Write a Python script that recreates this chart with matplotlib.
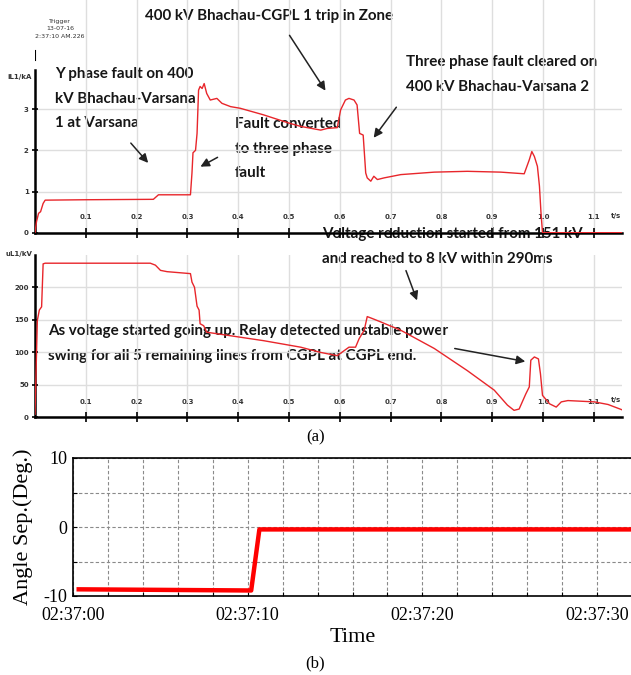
import numpy as np
import matplotlib.pyplot as plt
from matplotlib.ticker import FixedLocator, FuncFormatter, MultipleLocator

W, H = 631, 675

# iL1 current trace (kA)
cur_t = [0, 0.003, 0.007, 0.011, 0.016, 0.02, 0.1, 0.233, 0.243, 0.25, 0.306,
         0.309, 0.311, 0.316, 0.319, 0.322, 0.325, 0.329, 0.333, 0.338, 0.345,
         0.358, 0.368, 0.385, 0.404, 0.45, 0.5, 0.523, 0.5625, 0.575, 0.595,
         0.6016, 0.611, 0.618, 0.628, 0.634, 0.639, 0.646, 0.651, 0.654, 0.661,
         0.667, 0.674, 0.687, 0.72, 0.786, 0.851, 0.917, 0.963, 0.973, 0.978,
         0.983, 0.989, 0.993, 0.996, 0.999, 1.155]
cur_ka = [0, 0.27, 0.47, 0.51, 0.71, 0.79, 0.8, 0.81, 0.92, 0.92, 0.92,
          1.45, 1.94, 2.0, 2.41, 3.46, 3.55, 3.5, 3.62, 3.38, 3.22,
          3.26, 3.14, 3.06, 3.02, 2.86, 2.66, 2.58, 2.49, 2.53, 2.55,
          2.98, 3.22, 3.26, 3.22, 3.10, 2.41, 2.37, 1.45, 1.33, 1.25,
          1.37, 1.29, 1.33, 1.41, 1.47, 1.49, 1.47, 1.43, 1.77, 1.97,
          1.85, 1.61, 1.13, 0.49, 0, 0]

# uL1 voltage trace (kV)
vol_t = [0, 0.0046, 0.0085, 0.013, 0.016, 0.02, 0.227, 0.237, 0.247, 0.26,
         0.306, 0.309, 0.314, 0.319, 0.323, 0.325, 0.332, 0.338, 0.45, 0.523,
         0.562, 0.595, 0.618, 0.631, 0.638, 0.648, 0.654, 0.664, 0.68, 0.72,
         0.786, 0.851, 0.904, 0.93, 0.943, 0.953, 0.966, 0.973, 0.976, 0.983,
         0.991, 0.995, 0.999, 1.013, 1.026, 1.036, 1.049, 1.101, 1.128, 1.155]
vol_kv = [5, 149, 165, 170, 236, 237, 237, 234, 226, 224,
          221, 208, 200, 171, 165, 144, 141, 131, 118, 108,
          100, 95, 108, 108, 121, 134, 155, 152, 147, 134,
          106, 72, 42, 19, 11, 13, 36, 47, 88, 93,
          90, 67, 34, 21, 16, 24, 26, 24, 20, 12]

# angle separation (b), seconds after 02:37:00
ang_t = [0.2, 10.2, 10.67, 32.0]
ang_deg = [-9.03, -9.2, -0.35, -0.35]

rec_xticks = [0.1, 0.2, 0.3, 0.4, 0.5, 0.6, 0.7, 0.8, 0.9, 1.0, 1.1]
rec_xlabels = ['0.1', '0.2', '0.3', '0.4', '0.5', '0.6', '0.7', '0.8', '0.9', '1.0', '1.1']
cur_yticks = [0, 1, 2, 3]
vol_yticks = [0, 50, 100, 150, 200]
time_ticks = [0, 10, 20, 30]
angle_ticks = [-10, 0, 10]

notes = [
    ('400 kV Bhachau-CGPL 1 trip in Zone', 145, 15),
    ('Y phase fault on 400\nkV Bhachau-Varsana\n1 at Varsana', 55, 73),
    ('Fault converted\nto three phase\nfault', 235, 123),
    ('Three phase fault cleared on\n400 kV Bhachau-Varsana 2', 406, 61),
    ('Voltage reduction started from 151 kV\nand reached to 8 kV within 290ms', 322, 233),
    ('As voltage started going up. Relay detected unstable power\n'
     'swing for all 5 remaining lines from CGPL at CGPL end.', 48, 330),
]
arrows = [((288, 33), (327, 93)), ((129, 141), (150, 165)), ((220, 156), (198, 168)),
          ((398, 105), (372, 140)), ((405, 268), (418, 303)), ((452, 348), (528, 362))]


def fx(x):
    return x / W


def fy(y):
    return 1 - y / H


plt.rcParams['axes.unicode_minus'] = False
fig = plt.figure(figsize=(W / 100, H / 100), dpi=100)

red = '#e8262b'
tick_font = dict(fontsize=5, fontweight='bold', color='#333333')


def recorder(top, bottom, ymax, spine_top, t, v, yticks):
    ax = fig.add_axes([fx(35), fy(bottom), fx(622) - fx(35), (bottom - top) / H])
    ax.set_facecolor('none')
    ax.plot(t, v, color=red, lw=1.0, zorder=3)
    ax.set_xlim(0, 1.1555)
    ax.set_ylim(0, ymax)
    for s in ['top', 'right']:
        ax.spines[s].set_visible(False)
    ax.spines['left'].set_bounds(0, spine_top)
    ax.spines['bottom'].set_linewidth(1.8)
    ax.spines['left'].set_linewidth(1.8)
    ax.set_xticks(rec_xticks)
    ax.set_xticklabels(rec_xlabels, **tick_font)
    ax.set_yticks(yticks)
    ax.set_yticklabels([str(k) for k in yticks], **tick_font)
    ax.tick_params(axis='x', direction='inout', length=7, width=1.2, pad=-17)
    ax.tick_params(axis='y', direction='inout', length=5, width=1.2, pad=2)
    ax.grid(True, color='#dedede', lw=1.0, zorder=0)
    return ax


ax1 = recorder(0, 232.7, 232.7 / 41.2, (232.7 - 70) / 41.2, cur_t, cur_ka, cur_yticks)
ax2 = recorder(255, 417.5, 249.6, 249.6, vol_t, vol_kv, vol_yticks)

# trigger marker and recorder labels
ax1.axvline(0, ymin=(232.7 - 60) / 232.7, ymax=(232.7 - 51) / 232.7, color='black', lw=1.5)
fig.text(fx(60), fy(29), 'Trigger\n13-07-16\n2:37:10 AM.226', ha='center', va='center',
         fontsize=4.5, color='#333333', linespacing=1.6)
fig.text(fx(20), fy(77), 'iL1/kA', ha='center', va='center', **tick_font)
fig.text(fx(19), fy(254), 'uL1/kV', ha='center', va='center', **tick_font)
fig.text(fx(616), fy(216), 't/s', ha='center', va='center', **tick_font)
fig.text(fx(616), fy(400), 't/s', ha='center', va='center', **tick_font)

for txt, x, y in notes:
    fig.text(fx(x), fy(y - 6), txt, ha='left', va='top', fontsize=10.9, fontweight='bold',
             family='Lato', color='#161616', linespacing=1.97, zorder=-1)
for (x0, y0), (x1, y1) in arrows:
    fig.add_artist(plt.matplotlib.patches.FancyArrowPatch(
        (fx(x0), fy(y0)), (fx(x1), fy(y1)), transform=fig.transFigure,
        arrowstyle='-|>', mutation_scale=13, color='#222222', lw=1.1))

fig.text(0.5, fy(437), '(a)', ha='center', va='center', fontsize=12, family='Liberation Serif')
fig.text(0.5, fy(663), '(b)', ha='center', va='center', fontsize=12, family='Liberation Serif')

# (b) angle separation
ax3 = fig.add_axes([fx(73), fy(596), 559 / W, 138 / H])
ax3.plot(ang_t, ang_deg, color='#ff0000', lw=3.2, solid_capstyle='butt', zorder=3)
ax3.set_xlim(0, 32)
ax3.set_ylim(-10, 10)
ax3.spines['right'].set_visible(False)
for s in ['top', 'bottom', 'left']:
    ax3.spines[s].set_linewidth(1.2)
ax3.xaxis.set_major_locator(FixedLocator(time_ticks))
ax3.xaxis.set_minor_locator(MultipleLocator(2))
ax3.xaxis.set_major_formatter(FuncFormatter(lambda v, p: '02:37:%02d' % v))
ax3.yaxis.set_major_locator(FixedLocator(angle_ticks))
ax3.yaxis.set_minor_locator(MultipleLocator(5))
ax3.grid(True, which='both', color='#8a8a8a', lw=0.8, ls=(0, (3, 2)))
ax3.tick_params(which='both', direction='in', length=3, width=0.8)
ax3.tick_params(axis='x', pad=8)
ax3.tick_params(axis='y', pad=4)
for lab in ax3.get_xticklabels() + ax3.get_yticklabels():
    lab.set_family('Liberation Serif')
    lab.set_fontsize(13)
ax3.set_ylabel('Angle Sep.(Deg.)', family='Liberation Serif', fontsize=16)
ax3.yaxis.set_label_coords(-0.072, 0.5)
ax3.set_xlabel('Time', family='Liberation Serif', fontsize=16)
ax3.xaxis.set_label_coords(0.5, -0.23)

fig.savefig('out.png', dpi=100)
